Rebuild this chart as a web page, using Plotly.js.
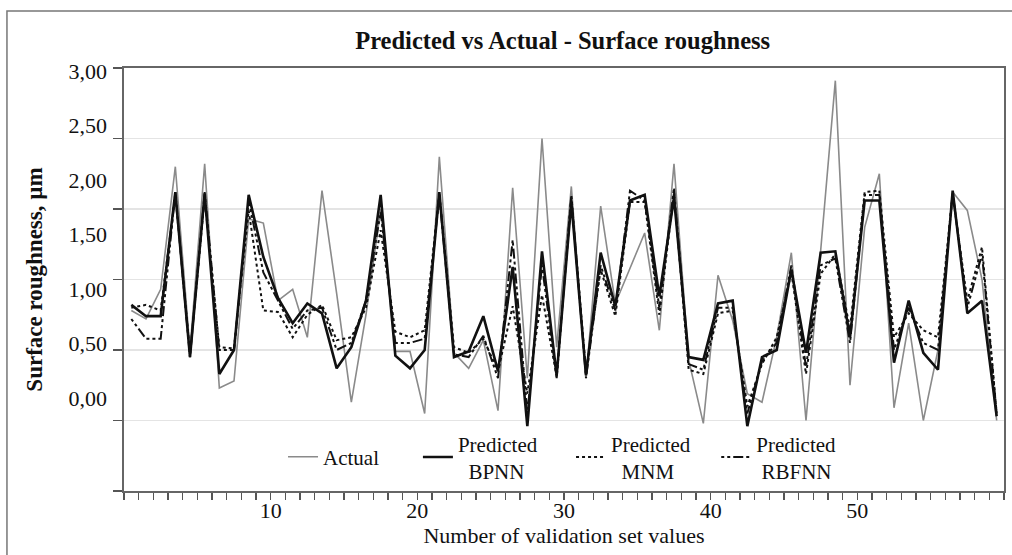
<!DOCTYPE html>
<html><head><meta charset="utf-8">
<script src="https://cdn.plot.ly/plotly-3.0.1.min.js"></script>
<style>html,body{margin:0;padding:0;background:#fff}#chart{width:1012px;height:555px}</style>
</head><body><div id="chart"></div>
<script>
const sampleIndex = [1,2,3,4,5,6,7,8,9,10,11,12,13,14,15,16,17,18,19,20,
  21,22,23,24,25,26,27,28,29,30,31,32,33,34,35,36,37,38,39,40,
  41,42,43,44,45,46,47,48,49,50,51,52,53,54,55,56,57,58,59,60];

const actual = [1.28,1.22,1.43,2.30,1.00,2.32,0.73,0.78,1.93,1.90,
  1.35,1.43,1.09,2.13,1.40,0.63,1.25,2.00,0.99,0.99,
  0.55,2.37,0.98,0.87,1.07,0.57,2.15,0.80,2.50,1.02,
  2.16,0.80,2.02,1.33,1.58,1.83,1.14,2.32,0.93,0.48,
  1.53,1.21,0.69,0.63,1.09,1.69,0.50,1.71,2.91,0.75,
  1.87,2.25,0.59,1.19,0.50,1.00,2.12,1.99,1.50,0.50];

const bpnn = [1.32,1.24,1.24,2.12,0.95,2.11,0.83,1.00,2.10,1.66,
  1.37,1.19,1.33,1.26,0.87,1.02,1.35,2.10,0.96,0.87,
  1.00,2.12,0.95,0.99,1.24,0.85,1.59,0.46,1.70,0.82,
  2.05,0.82,1.69,1.31,2.06,2.10,1.38,2.08,0.95,0.93,
  1.33,1.35,0.46,0.95,1.00,1.57,0.98,1.69,1.70,1.09,
  2.06,2.06,0.91,1.35,0.98,0.86,2.13,1.26,1.35,0.53];

const mnm = [1.30,1.32,1.28,2.10,0.97,2.08,1.02,1.01,1.99,1.28,
  1.27,1.09,1.25,1.32,1.07,1.09,1.30,1.85,1.13,1.09,
  1.14,2.11,1.02,0.98,1.08,0.85,1.31,0.69,1.39,0.81,
  2.08,0.85,1.57,1.24,2.05,2.05,1.25,2.12,0.86,0.83,
  1.26,1.28,0.60,0.90,1.09,1.55,0.83,1.54,1.68,1.15,
  2.12,2.13,1.09,1.26,1.14,1.09,2.10,1.35,1.73,0.55];

const rbfnn = [1.22,1.08,1.08,2.12,0.95,2.12,1.00,1.00,2.06,1.55,
  1.35,1.15,1.28,1.30,1.00,1.05,1.35,1.98,1.05,1.05,
  1.08,2.10,0.97,0.95,1.10,0.80,1.78,0.55,1.60,0.80,
  2.10,0.80,1.60,1.28,2.13,2.06,1.30,2.15,0.90,0.86,
  1.30,1.30,0.55,0.92,1.05,1.60,0.88,1.60,1.65,1.05,
  2.10,2.10,1.00,1.30,1.05,1.00,2.12,1.30,1.68,0.55];

const seriesNames = ['Actual', 'Predicted<br>\u00a0\u00a0BPNN', 'Predicted<br>\u00a0\u00a0MNM', 'Predicted<br>\u00a0RBFNN'];
const xTickValues = [10, 20, 30, 40, 50, 60];
const xTickLabels = ['10', '20', '30', '40', '50', '60'];
const yTickValues = [0, 0.5, 1, 1.5, 2, 2.5, 3];
const yTickLabels = ['0,00', '0,50', '1,00', '1,50', '2,00', '2,50', '3,00'];

const FONT = 'Liberation Serif, Times New Roman, serif';

const traces = [
  {x: sampleIndex, y: actual, name: seriesNames[0], legend: 'legend', mode: 'lines', line: {color: '#8a8a8a', width: 1.6}},
  {x: sampleIndex, y: bpnn, name: seriesNames[1], legend: 'legend2', mode: 'lines', line: {color: '#111', width: 2.6}},
  {x: sampleIndex, y: mnm, name: seriesNames[2], legend: 'legend3', mode: 'lines', line: {color: '#111', width: 2, dash: 'dot'}},
  {x: sampleIndex, y: rbfnn, name: seriesNames[3], legend: 'legend4', mode: 'lines', line: {color: '#111', width: 2, dash: '3px,3px,3px,3px,10px,3px'}},
  {x: [null], y: [null], yaxis: 'y2', showlegend: false, hoverinfo: 'skip', mode: 'lines'}
];

function legendAt(xp) {
  return {x: xp, xanchor: 'left', y: 0.08, yanchor: 'middle', bgcolor: 'rgba(0,0,0,0)', borderwidth: 0,
          font: {family: FONT, size: 21, color: '#111'}, valign: 'middle'};
}

const layout = {
  width: 1012, height: 555,
  margin: {l: 124, r: 8, t: 68, b: 64},
  paper_bgcolor: '#fff', plot_bgcolor: '#fff',
  font: {family: FONT, color: '#111', size: 21},
  title: {text: '<b>Predicted vs Actual - Surface roughness</b>', x: 0.556, xref: 'container',
          y: 0.928, yanchor: 'middle', font: {family: FONT, size: 24.5, color: '#111'}},
  xaxis: {
    range: [0.5, 60.5], showgrid: false, zeroline: false,
    tickmode: 'array', tickvals: xTickValues.map(v => v + 0.5), ticktext: xTickLabels,
    ticks: 'outside', ticklen: 7, tickcolor: '#555', tickwidth: 1.2,
    minor: {tickmode: 'linear', tick0: 0.5, dtick: 1, ticks: 'outside', ticklen: 7, tickcolor: '#555', tickwidth: 1.2, showgrid: false},
    showline: true, linecolor: '#666', linewidth: 2, mirror: true,
    ticklabelstandoff: -8,
    tickfont: {family: FONT, size: 22, color: '#111'},
    title: {text: 'Number of validation set values', font: {family: FONT, size: 22, color: '#111'}, standoff: 5}
  },
  yaxis: {
    range: [0, 3], tickmode: 'linear', tick0: 0, dtick: 0.5,
    showticklabels: false, ticks: 'outside', ticklen: 9, tickcolor: '#555', tickwidth: 1.2,
    showgrid: true, gridcolor: '#e4e4e4', gridwidth: 1.5, zeroline: false,
    showline: true, linecolor: '#666', linewidth: 2, mirror: true
  },
  yaxis2: {
    overlaying: 'y', side: 'left', range: [-0.853, 3.0275],
    tickmode: 'array', tickvals: yTickValues, ticktext: yTickLabels,
    ticks: '', showgrid: false, zeroline: false, showline: false,
    ticklabelstandoff: 16,
    tickfont: {family: FONT, size: 22, color: '#111'},
    title: {text: '<b>Surface roughness, \u00b5m</b>', font: {family: FONT, size: 23, color: '#111'}, standoff: 19}
  },
  legend: legendAt(0.1807),
  legend2: legendAt(0.334),
  legend3: legendAt(0.508),
  legend4: legendAt(0.673),
  shapes: [
    {type: 'rect', xref: 'paper', yref: 'paper', x0: -0.133, x1: 1.03, y0: -0.25, y1: 1.135,
     line: {color: '#777', width: 1.5}, fillcolor: 'rgba(0,0,0,0)', layer: 'below'}
  ],
  showlegend: true
};

Plotly.newPlot('chart', traces, layout, {staticPlot: true, displayModeBar: false});
</script>
</body></html>
